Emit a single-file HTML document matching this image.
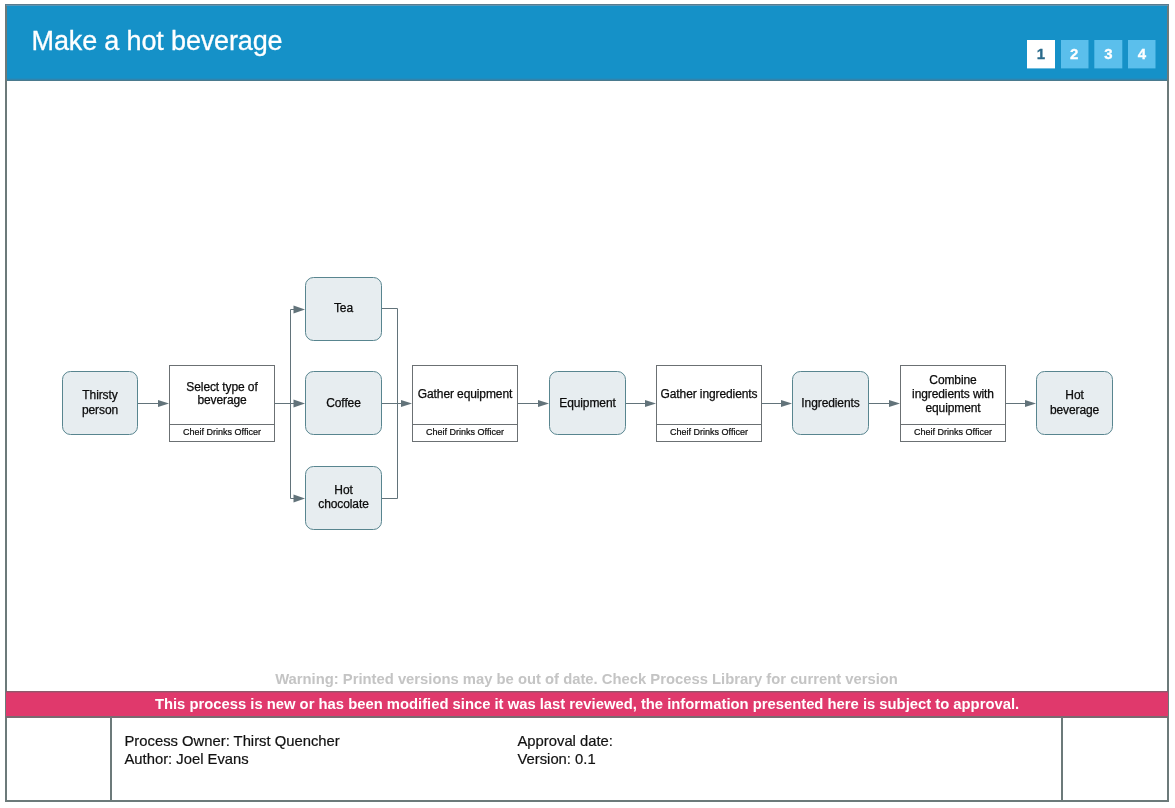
<!DOCTYPE html>
<html>
<head>
<meta charset="utf-8">
<style>
html,body{margin:0;padding:0;background:#fff;}
body{width:1175px;height:808px;position:relative;overflow:hidden;font-family:"Liberation Sans",sans-serif;}
svg{position:absolute;left:0;top:0;will-change:transform;}
</style>
</head>
<body>
<svg width="1175" height="808" viewBox="0 0 1175 808" font-family="Liberation Sans, sans-serif">
  <!-- header -->
  <rect x="5" y="4" width="1164" height="77" fill="#1591c8"/>
  <rect x="5" y="78" width="1164" height="1" fill="#1f8cbf"/>
  <rect x="5" y="79" width="1164" height="1" fill="#2f84ad"/>
  <rect x="5" y="80" width="1164" height="1" fill="#4a7a8e"/>
  <text x="31.6" y="49.6" font-size="27" letter-spacing="-0.15" fill="#ffffff" stroke="#ffffff" stroke-width="0.3">Make a hot beverage</text>
  <!-- page squares -->
  <rect x="1027" y="40" width="28" height="28.4" fill="#ffffff"/>
  <rect x="1061" y="40" width="27.5" height="28.4" fill="#5bbfec"/>
  <rect x="1094.3" y="40" width="28" height="28.4" fill="#5bbfec"/>
  <rect x="1128" y="40" width="27.5" height="28.4" fill="#5bbfec"/>
  <g font-size="15" font-weight="700" text-anchor="middle" stroke-width="0.3">
    <text x="1041" y="58.7" fill="#2a6a8a" stroke="#2a6a8a">1</text>
    <text x="1074.2" y="58.7" fill="#ffffff" stroke="#ffffff">2</text>
    <text x="1108.3" y="58.7" fill="#ffffff" stroke="#ffffff">3</text>
    <text x="1141.8" y="58.7" fill="#ffffff" stroke="#ffffff">4</text>
  </g>

  <!-- outer frame -->
  <rect x="6" y="5" width="1162" height="796" fill="none" stroke="#6c7a7a" stroke-width="2"/>
  <rect x="5" y="4" width="1164" height="1" fill="#5b7b8d"/>
  <rect x="6" y="5" width="1162" height="1" fill="#5a95b5"/>

  <!-- pink band -->
  <rect x="6" y="691" width="1162" height="26" fill="#e0396c"/>
  <rect x="6" y="691" width="1162" height="1" fill="#8e5a6c"/>
  <rect x="6" y="692" width="1162" height="1" fill="#c0456c"/>
  <rect x="6" y="716" width="1162" height="2" fill="#7a6a70"/>
  <text x="587" y="708.5" font-size="14.8" font-weight="700" fill="#ffffff" text-anchor="middle">This process is new or has been modified since it was last reviewed, the information presented here is subject to approval.</text>

  <!-- warning -->
  <text x="586.5" y="684.1" font-size="14.8" font-weight="700" fill="#c4c4c4" text-anchor="middle">Warning: Printed versions may be out of date. Check Process Library for current version</text>

  <!-- footer table dividers -->
  <rect x="110" y="717" width="2" height="85" fill="#6c7a7a"/>
  <rect x="1061" y="717" width="2" height="85" fill="#6c7a7a"/>
  <g font-size="14.8" fill="#111111" stroke="#111111" stroke-width="0.2">
    <text x="124.5" y="745.6">Process Owner: Thirst Quencher</text>
    <text x="124.5" y="763.8">Author: Joel Evans</text>
    <text x="517.5" y="745.6">Approval date:</text>
    <text x="517.5" y="763.8">Version: 0.1</text>
  </g>

  <!-- connectors -->
  <g stroke="#62737a" stroke-width="1" fill="none">
    <path d="M138 403.5H159"/>
    <path d="M275 403.5H290.5M290.5 309.5V498.5M290.5 309.5H295M290.5 403.5H295M290.5 498.5H295"/>
    <path d="M382 308.5H397.5M382 403.5H397.5M382 498.5H397.5M397.5 308.5V498.5M397.5 403.5H402"/>
    <path d="M518 403.5H539"/>
    <path d="M626 403.5H646"/>
    <path d="M762 403.5H782"/>
    <path d="M868 403.5H890"/>
    <path d="M1005 403.5H1026"/>
  </g>
  <g fill="#62737a">
    <path d="M158 400L169 403.5L158 407Z"/>
    <path d="M293.5 305.5L305 309.5L293.5 313.5Z"/>
    <path d="M293.5 399.5L305 403.5L293.5 407.5Z"/>
    <path d="M293.5 494.5L305 498.5L293.5 502.5Z"/>
    <path d="M401 400L412 403.5L401 407Z"/>
    <path d="M538 400L549 403.5L538 407Z"/>
    <path d="M645 400L656 403.5L645 407Z"/>
    <path d="M781 400L792 403.5L781 407Z"/>
    <path d="M889 400L900 403.5L889 407Z"/>
    <path d="M1025 400L1036 403.5L1025 407Z"/>
  </g>

  <!-- rounded nodes -->
  <g fill="#e7edf0" stroke="#58858f" stroke-width="1">
    <rect x="62.5" y="371.5" width="75" height="63" rx="8"/>
    <rect x="305.5" y="277.5" width="76" height="63" rx="8"/>
    <rect x="305.5" y="371.5" width="76" height="63" rx="8"/>
    <rect x="305.5" y="466.5" width="76" height="63" rx="8"/>
    <rect x="549.5" y="371.5" width="76" height="63" rx="8"/>
    <rect x="792.5" y="371.5" width="76" height="63" rx="8"/>
    <rect x="1036.5" y="371.5" width="76" height="63" rx="8"/>
  </g>
  <!-- task boxes -->
  <g fill="#ffffff" stroke="#6b7073" stroke-width="1">
    <rect x="169.5" y="365.5" width="105" height="76"/>
    <path d="M169.5 424.5H274.5"/>
    <rect x="412.5" y="365.5" width="105" height="76"/>
    <path d="M412.5 424.5H517.5"/>
    <rect x="656.5" y="365.5" width="105" height="76"/>
    <path d="M656.5 424.5H761.5"/>
    <rect x="900.5" y="365.5" width="105" height="76"/>
    <path d="M900.5 424.5H1005.5"/>
  </g>

  <!-- node text -->
  <g font-size="12" fill="#0a0a0a" stroke="#0a0a0a" stroke-width="0.25" text-anchor="middle" letter-spacing="-0.1">
    <text x="100" y="398.9">Thirsty</text>
    <text x="100" y="413.6">person</text>
    <text x="343.5" y="312.3">Tea</text>
    <text x="343.5" y="407.3">Coffee</text>
    <text x="343.5" y="494">Hot</text>
    <text x="343.5" y="508">chocolate</text>
    <text x="587.5" y="407.3">Equipment</text>
    <text x="830.5" y="407.3">Ingredients</text>
    <text x="1074.5" y="398.9">Hot</text>
    <text x="1074.5" y="413.6">beverage</text>

    <text x="222" y="390.8">Select type of</text>
    <text x="222" y="404.4">beverage</text>
    <text x="465" y="397.9">Gather equipment</text>
    <text x="709" y="397.9">Gather ingredients</text>
    <text x="953" y="384">Combine</text>
    <text x="953" y="398">ingredients with</text>
    <text x="953" y="412">equipment</text>
  </g>
  <g font-size="9" fill="#0a0a0a" stroke="#0a0a0a" stroke-width="0.2" text-anchor="middle">
    <text x="222" y="434.7">Cheif Drinks Officer</text>
    <text x="465" y="434.7">Cheif Drinks Officer</text>
    <text x="709" y="434.7">Cheif Drinks Officer</text>
    <text x="953" y="434.7">Cheif Drinks Officer</text>
  </g>
</svg>
</body>
</html>
